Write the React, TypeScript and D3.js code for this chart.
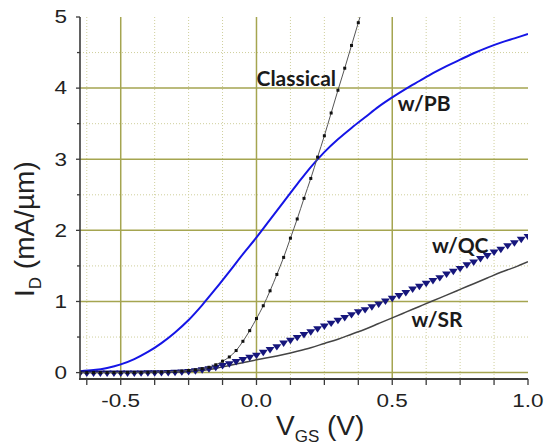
import React, { useRef, useEffect } from 'react';
import * as d3 from 'd3';

// I_D (mA/um) vs V_GS (V)
const pbVgs = [-0.65, -0.6, -0.55, -0.5, -0.45, -0.4, -0.35, -0.3, -0.25, -0.2, -0.15, -0.1, -0.05, 0.0,
  0.05, 0.1, 0.15, 0.2, 0.25, 0.3, 0.35, 0.4, 0.45, 0.5, 0.55, 0.6, 0.65, 0.7, 0.75, 0.8, 0.85, 0.9, 0.95, 1.0];
const pbId = [0.02, 0.035, 0.065, 0.115, 0.19, 0.29, 0.415, 0.565, 0.74, 0.95, 1.18, 1.42, 1.665, 1.9,
  2.15, 2.4, 2.65, 2.89, 3.1, 3.28, 3.44, 3.59, 3.74, 3.87, 3.99, 4.1, 4.21, 4.31, 4.4, 4.49, 4.57, 4.64, 4.7, 4.76];

const srVgs = pbVgs;
const srId = [0.0, 0.0, 0.0, 0.001, 0.002, 0.003, 0.005, 0.008, 0.015, 0.03, 0.058, 0.1, 0.14, 0.18,
  0.215, 0.255, 0.3, 0.35, 0.41, 0.47, 0.54, 0.61, 0.69, 0.77, 0.85, 0.93, 1.01, 1.09, 1.17, 1.25, 1.33, 1.41, 1.48, 1.56];

const qcVgs = [-0.65, -0.625, -0.6, -0.575, -0.55, -0.525, -0.5, -0.475, -0.45, -0.425, -0.4, -0.375, -0.35, -0.325,
  -0.3, -0.275, -0.25, -0.225, -0.2, -0.175, -0.15, -0.125, -0.1, -0.075, -0.05, -0.025, 0.0, 0.025, 0.05, 0.075,
  0.1, 0.125, 0.15, 0.175, 0.2, 0.225, 0.25, 0.275, 0.3, 0.325, 0.35, 0.375, 0.4, 0.425, 0.45, 0.475, 0.5, 0.525,
  0.55, 0.575, 0.6, 0.625, 0.65, 0.675, 0.7, 0.725, 0.75, 0.775, 0.8, 0.825, 0.85, 0.875, 0.9, 0.925, 0.95, 0.975, 1.0];
const qcId = [0.0, 0.0, 0.0, 0.0, 0.0, 0.0, 0.0, 0.0, 0.0, 0.001, 0.002, 0.003, 0.004, 0.006,
  0.01, 0.015, 0.02, 0.03, 0.045, 0.06, 0.08, 0.105, 0.13, 0.16, 0.19, 0.22, 0.25, 0.29, 0.33, 0.37,
  0.42, 0.46, 0.5, 0.54, 0.58, 0.62, 0.66, 0.7, 0.74, 0.78, 0.82, 0.86, 0.89, 0.93, 0.97, 1.01, 1.05, 1.09,
  1.13, 1.18, 1.22, 1.26, 1.3, 1.34, 1.39, 1.43, 1.47, 1.52, 1.56, 1.61, 1.65, 1.7, 1.74, 1.79, 1.83, 1.88, 1.92];

const classicalVgs = qcVgs.slice(0, 43);
const classicalId = [0.0, 0.0, 0.001, 0.001, 0.001, 0.002, 0.002, 0.003, 0.003, 0.004, 0.005, 0.007, 0.009, 0.012,
  0.016, 0.022, 0.03, 0.04, 0.055, 0.075, 0.11, 0.16, 0.22, 0.31, 0.44, 0.59, 0.76, 0.94, 1.15, 1.38,
  1.62, 1.89, 2.16, 2.45, 2.73, 3.03, 3.33, 3.65, 3.97, 4.28, 4.6, 4.92, 5.24];

const xMajor = [-0.5, 0.0, 0.5, 1.0];
const xMinor = [-0.625, -0.5, -0.375, -0.25, -0.125, 0.0, 0.125, 0.25, 0.375, 0.5, 0.625, 0.75, 0.875, 1.0];
const yMajor = [0, 1, 2, 3, 4, 5];
const yMinor = [0.5, 1.5, 2.5, 3.5, 4.5];

const labels = [
  { text: 'Classical', v: 0.0, i: 4.03 },
  { text: 'w/PB', v: 0.52, i: 3.68 },
  { text: 'w/QC', v: 0.646, i: 1.68 },
  { text: 'w/SR', v: 0.571, i: 0.64 },
];

const ChartApp = () => {
  const ref = useRef<SVGSVGElement | null>(null);

  useEffect(() => {
    if (!ref.current) return;
    const svg = d3.select(ref.current);
    svg.selectAll('*').remove();

    const x = d3.scaleLinear().domain([-0.65, 1.0]).range([80, 528]);
    const y = d3.scaleLinear().domain([-0.09, 5]).range([379, 17]);
    const [x0, x1] = x.range();
    const [yb, yt] = y.range();

    svg.append('rect').attr('width', 558).attr('height', 446).attr('fill', '#fff');

    svg.append('defs').append('clipPath').attr('id', 'plot')
      .append('rect').attr('x', x0).attr('y', yt).attr('width', x1 - x0).attr('height', yb - yt);

    // dotted minor grid
    xMinor.filter(v => !xMajor.includes(v) && v < 1).forEach(v => {
      svg.append('line').attr('x1', x(v)).attr('x2', x(v)).attr('y1', yt).attr('y2', yb)
        .attr('stroke', '#cfcf9c').attr('stroke-width', 1).attr('stroke-dasharray', '1,2');
    });
    yMinor.forEach(v => {
      svg.append('line').attr('x1', x0).attr('x2', x1).attr('y1', y(v)).attr('y2', y(v))
        .attr('stroke', '#cfcf9c').attr('stroke-width', 1).attr('stroke-dasharray', '1,2');
    });
    // solid major grid
    xMajor.filter(v => v < 1).forEach(v => {
      svg.append('line').attr('x1', x(v)).attr('x2', x(v)).attr('y1', yt).attr('y2', yb)
        .attr('stroke', '#a5a550').attr('stroke-width', 1.5);
    });
    yMajor.filter(v => v < 5).forEach(v => {
      svg.append('line').attr('x1', x0).attr('x2', x1).attr('y1', y(v)).attr('y2', y(v))
        .attr('stroke', '#a5a550').attr('stroke-width', 1.5);
    });

    const plot = svg.append('g').attr('clip-path', 'url(#plot)');
    const line = d3.line<[number, number]>().x(d => x(d[0])).y(d => y(d[1])).curve(d3.curveMonotoneX);

    plot.append('path').datum(pbVgs.map((v, k) => [v, pbId[k]] as [number, number]))
      .attr('fill', 'none').attr('stroke', '#1515e6').attr('stroke-width', 2).attr('d', line);

    plot.append('path').datum(srVgs.map((v, k) => [v, srId[k]] as [number, number]))
      .attr('fill', 'none').attr('stroke', '#444').attr('stroke-width', 1.5).attr('d', line);

    const qc = qcVgs.map((v, k) => [v, qcId[k]] as [number, number]);
    const tri = d3.symbol().type(d3.symbolTriangle).size(24)();
    plot.selectAll('.qc').data(qc).enter().append('path')
      .attr('d', tri)
      .attr('transform', d => `translate(${x(d[0])},${y(d[1])}) rotate(180) scale(1.2,1)`)
      .attr('fill', '#16167c');

    const cl = classicalVgs.map((v, k) => [v, classicalId[k]] as [number, number]);
    plot.append('path').datum(cl)
      .attr('fill', 'none').attr('stroke', '#555').attr('stroke-width', 1).attr('d', line);
    plot.selectAll('.cl').data(cl).enter().append('rect')
      .attr('x', d => x(d[0]) - 1.5).attr('y', d => y(d[1]) - 1.5)
      .attr('width', 3).attr('height', 3).attr('fill', '#111');

    // axes
    svg.append('line').attr('x1', x0).attr('x2', x0).attr('y1', yt).attr('y2', yb + 1)
      .attr('stroke', '#3a3a3a').attr('stroke-width', 1.6);
    svg.append('line').attr('x1', x0 - 0.8).attr('x2', x1).attr('y1', yb).attr('y2', yb)
      .attr('stroke', '#3a3a3a').attr('stroke-width', 2.2);

    yMajor.forEach(v => {
      svg.append('line').attr('x1', x0 - 4).attr('x2', x0).attr('y1', y(v)).attr('y2', y(v))
        .attr('stroke', '#3a3a3a').attr('stroke-width', 1.3);
    });
    yMinor.forEach(v => {
      svg.append('line').attr('x1', x0 - 3).attr('x2', x0).attr('y1', y(v)).attr('y2', y(v))
        .attr('stroke', '#3a3a3a').attr('stroke-width', 1.3);
    });
    xMinor.forEach(v => {
      svg.append('line').attr('x1', x(v)).attr('x2', x(v)).attr('y1', yb).attr('y2', yb + 6)
        .attr('stroke', '#3a3a3a').attr('stroke-width', 1.3);
    });

    const font = '"Liberation Sans", Arial, sans-serif';
    yMajor.forEach(v => {
      svg.append('text').attr('transform', `translate(67,${y(v) + 6.3}) scale(1.25,1)`)
        .attr('text-anchor', 'end').attr('font-family', font).attr('font-size', 18)
        .attr('fill', '#222').text(String(v));
    });
    xMajor.forEach(v => {
      svg.append('text').attr('transform', `translate(${x(v)},${407}) scale(1.25,1)`)
        .attr('text-anchor', 'middle').attr('font-family', font).attr('font-size', 18)
        .attr('fill', '#222').text(d3.format('.1f')(v).replace('−', '-'));
    });

    // axis titles
    const xt = svg.append('text').attr('x', 276).attr('y', 435)
      .attr('font-family', font).attr('font-size', 28).attr('fill', '#222');
    xt.append('tspan').text('V');
    xt.append('tspan').attr('font-size', 17).attr('dy', 7).text('GS');
    xt.append('tspan').attr('dy', -7).text(' (V)');

    const yt2 = svg.append('text').attr('transform', 'translate(34,297) rotate(-90)')
      .attr('font-family', font).attr('font-size', 28).attr('fill', '#222');
    yt2.append('tspan').text('I');
    yt2.append('tspan').attr('font-size', 17).attr('dy', 7).text('D');
    yt2.append('tspan').attr('dy', -7).text(' (mA/\u00b5m)');

    labels.forEach(l => {
      svg.append('text').attr('x', x(l.v)).attr('y', y(l.i))
        .attr('font-family', 'Lato, "Open Sans", sans-serif').attr('font-weight', 'bold')
        .attr('font-size', 21).attr('fill', '#1a1a1a').text(l.text);
    });
  }, []);

  return (
    <svg ref={ref} width={558} height={446}
      style={{ position: 'absolute', left: 0, top: 0, display: 'block' }} />
  );
};

export default ChartApp;
